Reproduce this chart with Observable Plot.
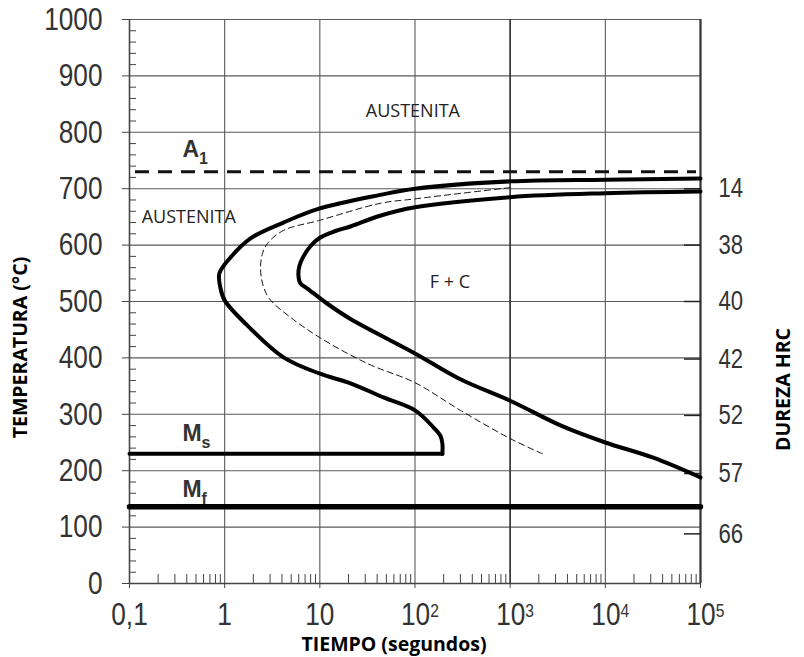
<!DOCTYPE html>
<html><head><meta charset="utf-8">
<script src="https://cdn.jsdelivr.net/npm/d3@7"></script>
<script src="https://cdn.jsdelivr.net/npm/@observablehq/plot@0.6"></script>
<style>
body{margin:0;background:#fff;}
#chart svg{display:block;}
</style></head><body><div id="chart"></div>
<script>
// ---- data ----
const xTicks = [0.1, 1, 10, 100, 1000, 10000, 100000];
const xTickBase = ["0,1", "1", "10", "10", "10", "10", "10"];
const xTickExp = ["", "", "", "2", "3", "4", "5"];
const xMinor = [0.2,0.3,0.4,0.5,0.6,0.7,0.8,0.9,2,3,4,5,6,7,8,9,20,30,40,50,60,70,80,90,200,300,400,500,600,700,800,900,2000,3000,4000,5000,6000,7000,8000,9000,20000,30000,40000,50000,60000,70000,80000,90000];
const yTicks = [0, 100, 200, 300, 400, 500, 600, 700, 800, 900, 1000];
const yMinor = [20,40,60,80,120,140,160,180,220,240,260,280,320,340,360,380,420,440,460,480,520,540,560,580,620,640,660,680,720,740,760,780,820,840,860,880,920,940,960,980];
const hardTemps = [700, 600, 500, 398, 298, 195, 88];
const hardLabels = ["14", "38", "40", "42", "52", "57", "66"];

// start of transformation (outer C curve)
const startTimes = [100000, 10000, 1000, 100, 43, 10, 4.15, 1.87, 1.15, 0.88, 0.9, 1.0, 1.87, 4.15, 10, 21, 46.6, 100, 156, 185, 194, 194];
const startTemps = [718, 716, 713, 700, 689, 665, 640, 612, 578, 550, 525, 502, 452, 401, 372, 355, 330, 307, 277, 262, 248, 230];
// 50% (thin dashed) curve
const midTimes = [1000, 100, 43, 10, 4.15, 2.82, 2.5, 2.38, 2.52, 2.95, 4.91, 10, 31.6, 100, 300, 1000, 2180];
const midTemps = [702, 682, 674, 644, 626, 603, 585, 560, 530, 505, 472, 436, 390, 356, 307, 257, 230];
// end of transformation (inner C curve)
const finishTimes = [100000, 10000, 1000, 100, 43, 21, 14.6, 10, 7.96, 6.73, 6.1, 5.96, 6.25, 7.4, 12, 21, 100, 300, 1000, 3620, 10000, 31900, 100000];
const finishTemps = [695, 692, 685, 667, 652, 633, 625, 613, 598, 580, 563, 546, 532, 523, 496, 469, 408, 362, 324, 278, 250, 223, 188];

const a1Temp = 730;
const msTemp = 230;
const msTimes = [0.1, 194];
const mfTemp = 136;
const mfTimes = [0.1, 100000];

const regionLabels = ["AUSTENITA", "AUSTENITA", "F + C"];
const regionTimes = [95, 0.42, 233];
const regionTemps = [838, 650, 535];

const phaseLabels = ["A", "M", "M"];
const phaseSubs = ["1", "s", "f"];
const phaseTimes = [0.36, 0.36, 0.36];
const phaseTemps = [769, 265, 167];

const xTitle = "TIEMPO (segundos)";
const yTitle = "TEMPERATURA (°C)";
const y2Title = "DUREZA HRC";

// ---- chart ----
const numFont = "'Liberation Sans', Arial, sans-serif";
const titleFont = "'Open Sans', sans-serif";
const idx = a => d3.range(a.length);
const grid = "#5a5a5a";

const chart = Plot.plot({
  width: 804, height: 657,
  marginLeft: 129, marginRight: 104, marginTop: 19, marginBottom: 74,
  x: {type: "log", domain: [0.1, 100000]},
  y: {domain: [0, 1000]},
  style: {background: "#fff", overflow: "visible"},
  marks: [
    Plot.gridY(yTicks, {stroke: grid, strokeOpacity: 1, strokeWidth: 1.1}),
    Plot.gridX(xTicks, {stroke: grid, strokeOpacity: 1, strokeWidth: 1.1}),
    Plot.ruleX([1000], {stroke: "#333", strokeWidth: 1.5}),
    Plot.ruleX([0.1], {stroke: "#444", strokeWidth: 1.5}),
    Plot.ruleX([100000], {stroke: "#333", strokeWidth: 2.2}),
    Plot.ruleY([0], {stroke: "#444", strokeWidth: 1.5}),
    Plot.axisY(yTicks, {anchor: "left", tickSize: 7, tickPadding: 20, label: null,
      tickFormat: d => String(d),
      fontSize: 32, fontFamily: numFont, fill: "#333", stroke: "#444"}),
    Plot.axisY(yMinor, {anchor: "left", tickSize: -7, fill: "none", label: null, stroke: "#444"}),
    Plot.axisX(xTicks, {anchor: "bottom", tickSize: 5, tickPadding: 14, label: null,
      tickFormat: d => xTickBase[xTicks.indexOf(d)],
      fontSize: 32, fontFamily: numFont, fill: "#333", stroke: "#444"}),
    Plot.axisX(xMinor, {anchor: "bottom", tickSize: -9, fill: "none", label: null, stroke: "#444"}),
    Plot.axisY(hardTemps, {anchor: "right", tickSize: -17, tickPadding: 35, label: null,
      tickFormat: d => hardLabels[hardTemps.indexOf(d)],
      fontSize: 27, fontFamily: numFont, fill: "#333", stroke: "#222", strokeWidth: 1.5}),
    Plot.ruleY([a1Temp], {stroke: "#111", strokeWidth: 3, strokeDasharray: "14,9", insetLeft: 6, insetRight: 4}),
    Plot.line(mfTimes, {x: d => d, y: () => mfTemp, stroke: "#000", strokeWidth: 5.5}),
    Plot.line(msTimes, {x: d => d, y: () => msTemp, stroke: "#000", strokeWidth: 4}),
    Plot.line(idx(startTimes), {x: i => startTimes[i], y: i => startTemps[i], curve: "catmull-rom", stroke: "#000", strokeWidth: 4, strokeLinejoin: "round"}),
    Plot.line(idx(finishTimes), {x: i => finishTimes[i], y: i => finishTemps[i], curve: "catmull-rom", stroke: "#000", strokeWidth: 4, strokeLinejoin: "round"}),
    Plot.line(idx(midTimes), {x: i => midTimes[i], y: i => midTemps[i], curve: "catmull-rom", stroke: "#111", strokeWidth: 1, strokeDasharray: "6,4"}),
    Plot.text(idx(regionLabels), {x: i => regionTimes[i], y: i => regionTemps[i], text: i => regionLabels[i],
      fontFamily: titleFont, fontSize: 18, fill: "#222", textAnchor: "middle"}),
    Plot.text(idx(phaseLabels), {x: i => phaseTimes[i], y: i => phaseTemps[i], text: i => phaseLabels[i],
      fontFamily: numFont, fontSize: 23, fontWeight: "bold", fill: "#333", textAnchor: "start"}),
    Plot.text([yTitle], {frameAnchor: "left", rotate: -90, dx: -109, dy: 46, textAnchor: "middle", lineAnchor: "middle",
      fontWeight: "bold", fontSize: 19.5, fontFamily: titleFont, fill: "#000"}),
    Plot.text([y2Title], {frameAnchor: "right", rotate: -90, dx: 83, dy: 88, textAnchor: "middle", lineAnchor: "middle",
      fontWeight: "bold", fontSize: 19.5, fontFamily: titleFont, fill: "#000"}),
    Plot.text([xTitle], {frameAnchor: "bottom", dx: -21, dy: 61, textAnchor: "middle", lineAnchor: "middle",
      fontWeight: "bold", fontSize: 19.5, fontFamily: titleFont, fill: "#000"})
  ]
});

const svg = d3.select(chart);
// condense the numeric tick labels (narrow typeface look)
svg.selectAll('g[aria-label="y-axis tick label"] text, g[aria-label="x-axis tick label"] text').each(function() {
  const t = d3.select(this);
  const tr = t.attr("transform");
  if (tr && tr.indexOf("translate") >= 0) t.attr("transform", tr + " scale(0.82,1)");
});
// superscripts on x tick labels
svg.selectAll('g[aria-label="x-axis tick label"] text').each(function(d, i) {
  const t = d3.select(this);
  const e = xTickExp[i];
  if (e && t.text() === xTickBase[i]) {
    t.append("tspan").attr("font-size", 19).attr("dy", -8).text(e);
    t.attr("dx", 6);
  }
});
// subscripts on phase labels (A1, Ms, Mf)
svg.selectAll("g").each(function() {
  const texts = Array.from(this.children).filter(n => n.tagName.toLowerCase() === "text");
  if (texts.length === phaseLabels.length && texts.every((n, i) => n.textContent === phaseLabels[i])) {
    texts.forEach((n, i) => {
      d3.select(n).append("tspan").attr("font-size", 16).attr("dy", 7).text(phaseSubs[i]);
    });
  }
});
document.getElementById("chart").appendChild(chart);
</script>
</body></html>
